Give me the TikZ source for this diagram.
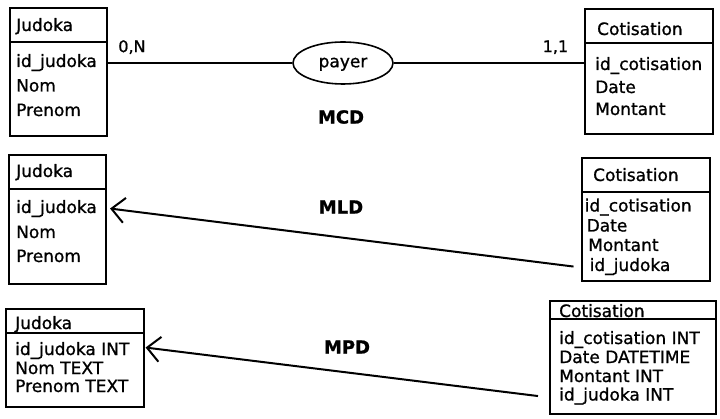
\documentclass[tikz,border=0pt]{standalone}
\usepackage{fontspec}
\setmainfont[FakeBold=1]{DejaVu Sans}
\usetikzlibrary{shapes,arrows.meta,positioning}

\begin{document}
\begin{tikzpicture}[
    x=1pt, y=1pt,
    entity/.style={
        rectangle,
        draw,
        line width=2pt,
        anchor=north west,
        inner sep=0pt
    },
    head/.style={anchor=base west, inner sep=0pt, font=\fontsize{17}{20}\selectfont},
    attr/.style={anchor=base west, inner sep=0pt, font=\fontsize{17}{20}\selectfont},
    relation/.style={
        ellipse,
        draw,
        line width=1.6pt,
        minimum width=100pt,
        minimum height=42pt,
        text height=12pt,
        text depth=3.5pt,
        font=\fontsize{17}{20}\selectfont
    },
    card/.style={inner sep=0pt, font=\fontsize{16}{18}\selectfont},
    level/.style={font=\bfseries\fontsize{18}{20}\selectfont},
    link/.style={draw, line width=2pt},
    fk/.style={draw, line width=2pt, -{Straight Barb[length=13pt, width=25pt, line width=2pt]}}
]
\useasboundingbox (0,0) rectangle (720,418);

% MCD
\node [entity, minimum width=97pt, minimum height=128pt] (judokaMCD) at (9,411) {};
\node [head] (titleJudokaMCD) at (16,387) {Judoka};
\node [attr] (pkJudokaMCD) at (16,351) {id\_judoka};
\node [attr] (nomMCD) at (16,326.5) {Nom};
\node [attr] (prenomMCD) at (16,302) {Prenom};
\draw [link] (judokaMCD.west |- 0,376) -- (judokaMCD.east |- 0,376);

\node [entity, minimum width=128pt, minimum height=125pt] (cotisationMCD) at (584,410) {};
\node [head] (titleCotisationMCD) at (597,383) {Cotisation};
\node [attr] (pkCotisationMCD) at (595,348) {id\_cotisation};
\node [attr] (dateMCD) at (595,325) {Date};
\node [attr] (montantMCD) at (595,303) {Montant};
\draw [link] (cotisationMCD.west |- 0,375) -- (cotisationMCD.east |- 0,375);

\node [relation] (payer) at (343,355) {payer};

% Association with cardinalities
\draw [link] (judokaMCD.east |- payer) -- node[card, pos=0.13, above=8pt] {0,N} (payer);
\draw [link] (payer) -- node[card, pos=0.85, above=8pt] {1,1} (cotisationMCD.west |- payer);

\node [level] (mcd) at (341,301) {MCD};

% MLD
\node [entity, minimum width=97pt, minimum height=129pt] (judokaMLD) at (8,264) {};
\node [head] (titleJudokaMLD) at (16,241) {Judoka};
\node [attr] (pkJudokaMLD) at (16,205) {id\_judoka};
\node [attr] (nomMLD) at (16,180) {Nom};
\node [attr] (prenomMLD) at (16,156) {Prenom};
\draw [link] (judokaMLD.west |- 0,229) -- (judokaMLD.east |- 0,229);

\node [entity, minimum width=128pt, minimum height=123pt] (cotisationMLD) at (581,261) {};
\node [head] (titleCotisationMLD) at (593,237) {Cotisation};
\node [attr] (pkCotisationMLD) at (584.5,206.5) {id\_cotisation};
\node [attr] (dateMLD) at (586.5,186.5) {Date};
\node [attr] (montantMLD) at (588,167) {Montant};
\node [attr] (fkCotisationMLD) at (589.5,147) {id\_judoka};
\draw [link] (cotisationMLD.west |- 0,226) -- (cotisationMLD.east |- 0,226);

\draw [fk] ([xshift=-16pt]fkCotisationMLD.west) -- ([xshift=13pt]pkJudokaMLD.east);

\node [level] (mld) at (341,211) {MLD};

% MPD
\node [entity, minimum width=138pt, minimum height=98pt] (judokaMPD) at (5,110) {};
\node [head] (titleJudokaMPD) at (15,89) {Judoka};
\node [attr] (pkJudokaMPD) at (15,63) {id\_judoka INT};
\node [attr] (nomMPD) at (15,44) {Nom TEXT};
\node [attr] (prenomMPD) at (15,26) {Prenom TEXT};
\draw [link] (judokaMPD.west |- 0,85) -- (judokaMPD.east |- 0,85);

\node [entity, minimum width=166pt, minimum height=113pt] (cotisationMPD) at (549,118) {};
\node [head] (titleCotisationMPD) at (559,101) {Cotisation};
\node [attr] (pkCotisationMPD) at (559,74) {id\_cotisation INT};
\node [attr] (dateMPD) at (559,55) {Date DATETIME};
\node [attr] (montantMPD) at (559,36) {Montant INT};
\node [attr] (fkCotisationMPD) at (559,17.5) {id\_judoka INT};
\draw [link] (cotisationMPD.west |- 0,98.7) -- (cotisationMPD.east |- 0,98.7);

\draw [fk] ([xshift=-21pt]fkCotisationMPD.west) -- ([xshift=16pt, yshift=3pt]pkJudokaMPD.east);

\node [level] (mpd) at (347,71) {MPD};

\end{tikzpicture}
\end{document}
